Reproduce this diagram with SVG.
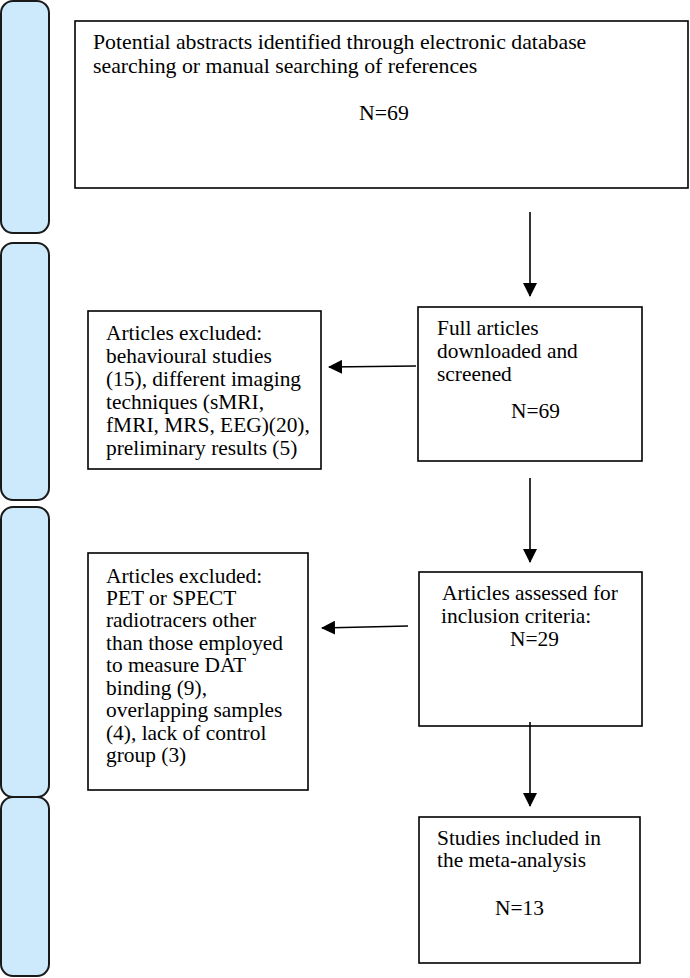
<svg xmlns="http://www.w3.org/2000/svg" width="690" height="978" viewBox="0 0 690 978">
  <defs>
    <marker id="ah" viewBox="0 0 14 14" refX="13" refY="7" markerWidth="14" markerHeight="14" markerUnits="userSpaceOnUse" orient="auto">
      <path d="M0,0 L14,7 L0,14 Z" fill="#000"/>
    </marker>
    <style>
      .bar { fill: #cdeafc; stroke: #1a1a1a; stroke-width: 2; }
      .box { fill: #ffffff; stroke: #000; stroke-width: 1.6; }
      .t { font-family: "Liberation Serif", "Times New Roman", serif; font-size: 21.4px; fill: #000; }
      .tl { font-size: 21.8px; }
      .conn { stroke: #000; stroke-width: 1.6; fill: none; marker-end: url(#ah); }
    </style>
  </defs>
  <rect width="690" height="978" fill="#ffffff"/>

  <g id="phase-bars">
    <rect class="bar" x="1" y="1" width="48" height="232" rx="12" ry="12"/>
    <rect class="bar" x="1" y="243" width="48" height="257" rx="12" ry="12"/>
    <rect class="bar" x="1" y="507" width="48" height="290" rx="12" ry="12"/>
    <rect class="bar" x="1" y="797" width="48" height="179" rx="12" ry="12"/>
  </g>

  <g id="identified">
    <rect class="box" x="75" y="21" width="613" height="167"/>
    <text class="t tl" x="93" y="49">Potential abstracts identified through electronic database</text>
    <text class="t tl" x="93" y="73">searching or manual searching of references</text>
    <text class="t tl" x="359" y="120">N=69</text>
  </g>

  <g id="screened">
    <rect class="box" x="418" y="307" width="224" height="154"/>
    <text class="t" x="437" y="335">Full articles</text>
    <text class="t" x="437" y="358">downloaded and</text>
    <text class="t" x="437" y="381">screened</text>
    <text class="t" x="511" y="418">N=69</text>
  </g>

  <g id="excluded-1">
    <rect class="box" x="88" y="311" width="233" height="158"/>
    <text class="t" x="106" y="340">Articles excluded:</text>
    <text class="t" x="106" y="363">behavioural studies</text>
    <text class="t" x="106" y="386">(15), different imaging</text>
    <text class="t" x="106" y="409">techniques (sMRI,</text>
    <text class="t" x="106" y="432">fMRI, MRS, EEG)(20),</text>
    <text class="t" x="106" y="455">preliminary results (5)</text>
  </g>

  <g id="assessed">
    <rect class="box" x="419" y="572" width="223" height="154"/>
    <text class="t" x="442" y="600">Articles assessed for</text>
    <text class="t" x="441" y="623">inclusion criteria:</text>
    <text class="t" x="510" y="646">N=29</text>
  </g>

  <g id="excluded-2">
    <rect class="box" x="88" y="553" width="220" height="237"/>
    <text class="t" x="106" y="583">Articles excluded:</text>
    <text class="t" x="106" y="605">PET or SPECT</text>
    <text class="t" x="106" y="627">radiotracers other</text>
    <text class="t" x="106" y="650">than those employed</text>
    <text class="t" x="106" y="672">to measure DAT</text>
    <text class="t" x="106" y="695">binding (9),</text>
    <text class="t" x="106" y="717">overlapping samples</text>
    <text class="t" x="106" y="740">(4), lack of control</text>
    <text class="t" x="106" y="762">group (3)</text>
  </g>

  <g id="included">
    <rect class="box" x="419" y="817" width="221" height="146"/>
    <text class="t" x="437" y="845">Studies included in</text>
    <text class="t" x="437" y="867">the meta-analysis</text>
    <text class="t" x="495" y="915">N=13</text>
  </g>

  <g id="connectors">
    <line class="conn" x1="530" y1="212" x2="530" y2="296"/>
    <line class="conn" x1="416" y1="366" x2="329" y2="367"/>
    <line class="conn" x1="530" y1="478" x2="530" y2="562"/>
    <line class="conn" x1="408" y1="626" x2="322" y2="628"/>
    <line class="conn" x1="530" y1="722" x2="530" y2="806"/>
  </g>
</svg>
